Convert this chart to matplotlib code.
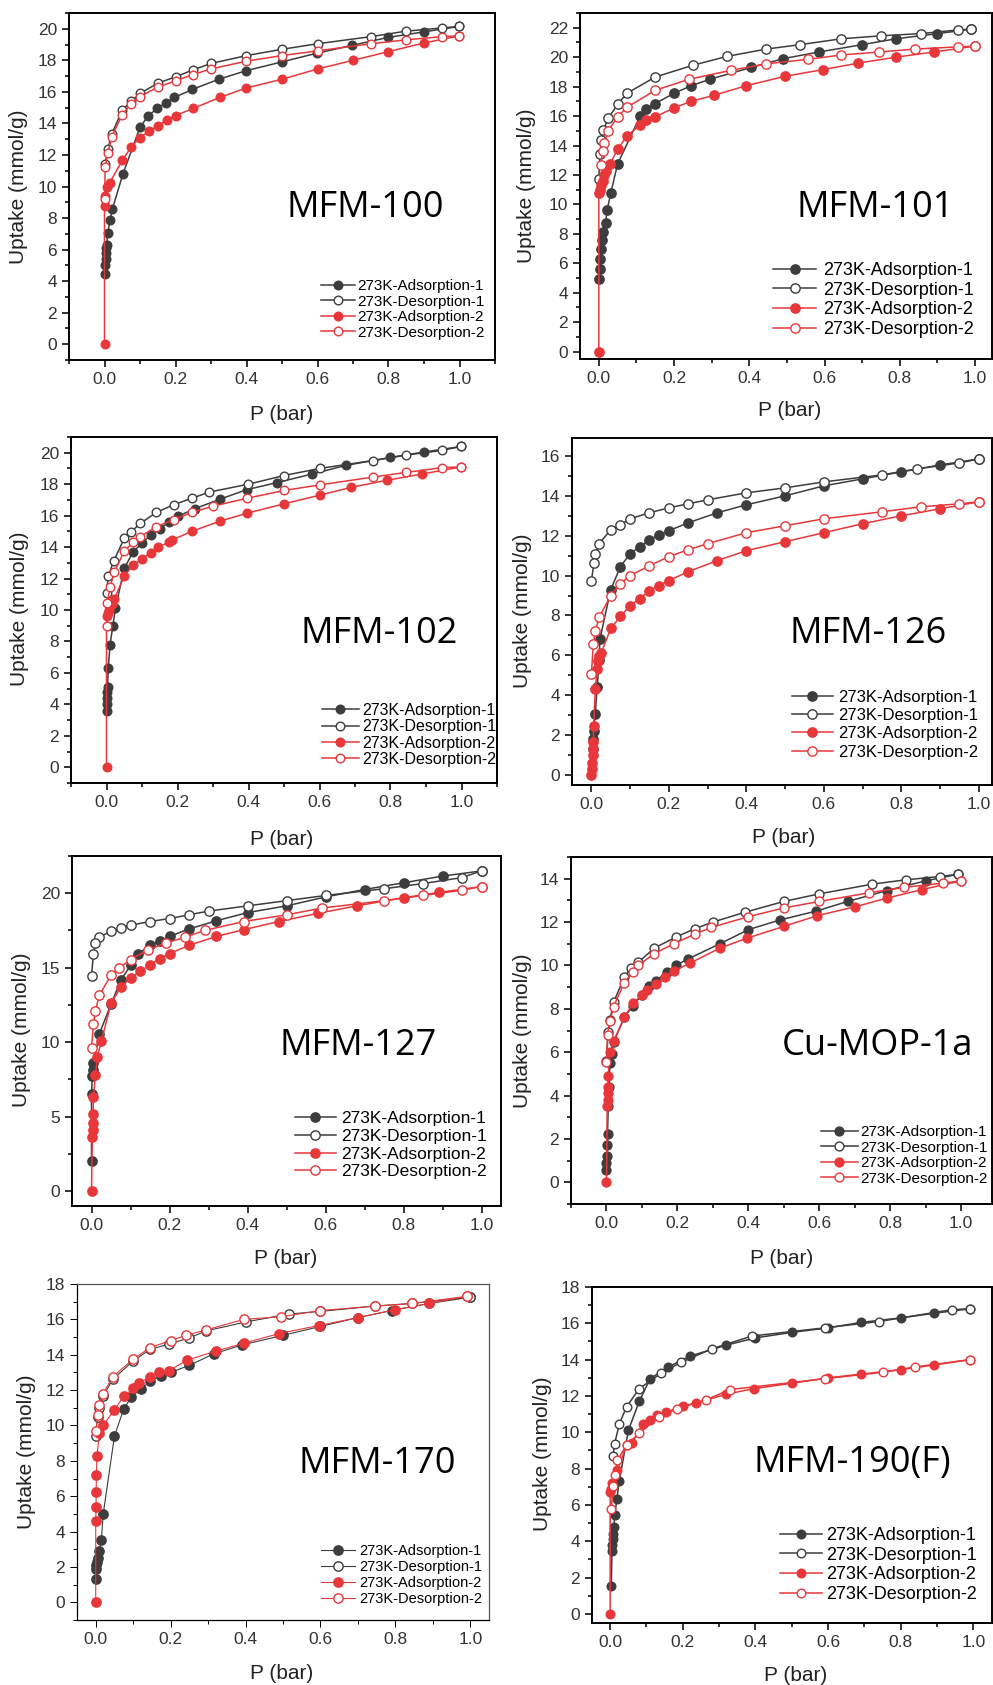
import matplotlib
matplotlib.use('Agg')
import matplotlib.pyplot as plt
from matplotlib.ticker import MultipleLocator

plt.rcParams['font.family'] = ['Liberation Sans', 'DejaVu Sans']

# ---- MFM-100 ----
mfm100_ads1_p = [0.0, 0.002, 0.003, 0.004, 0.005, 0.006, 0.009, 0.016, 0.022, 0.052, 0.1, 0.122, 0.148, 0.174, 0.197, 0.247, 0.322, 0.4, 0.5, 0.598, 0.698, 0.798, 0.899, 1.0]
mfm100_ads1_q = [4.45, 5.0, 5.4, 5.8, 6.1, 6.3, 7.05, 7.85, 8.55, 10.8, 13.75, 14.45, 14.95, 15.3, 15.65, 16.15, 16.8, 17.35, 17.9, 18.45, 18.95, 19.45, 19.8, 20.15]
mfm100_des1_p = [1.0, 0.95, 0.85, 0.75, 0.6, 0.5, 0.4, 0.3, 0.25, 0.2, 0.15, 0.1, 0.075, 0.05, 0.02, 0.01, 0.002]
mfm100_des1_q = [20.15, 20.05, 19.85, 19.5, 19.05, 18.7, 18.3, 17.8, 17.4, 16.95, 16.55, 15.9, 15.4, 14.85, 13.3, 12.4, 11.45]
mfm100_ads2_p = [0.0, 0.0, 0.0, 0.008, 0.015, 0.05, 0.075, 0.1, 0.125, 0.15, 0.175, 0.2, 0.25, 0.325, 0.4, 0.5, 0.6, 0.7, 0.8, 0.9, 1.0]
mfm100_ads2_q = [0.0, 8.75, 9.4, 9.95, 10.25, 11.65, 12.5, 13.1, 13.5, 13.85, 14.2, 14.5, 14.95, 15.65, 16.25, 16.8, 17.45, 18.0, 18.55, 19.1, 19.55]
mfm100_des2_p = [1.0, 0.95, 0.85, 0.75, 0.6, 0.5, 0.4, 0.3, 0.25, 0.2, 0.15, 0.1, 0.075, 0.05, 0.02, 0.01, 0.002, 0.0]
mfm100_des2_q = [19.55, 19.5, 19.3, 19.05, 18.6, 18.3, 17.95, 17.45, 17.1, 16.7, 16.3, 15.7, 15.25, 14.55, 13.15, 12.15, 11.25, 9.2]

# ---- MFM-101 ----
mfm101_ads1_p = [0.0, 0.002, 0.004, 0.006, 0.008, 0.01, 0.018, 0.022, 0.032, 0.05, 0.11, 0.125, 0.15, 0.2, 0.245, 0.295, 0.405, 0.49, 0.585, 0.7, 0.79, 0.9, 0.99]
mfm101_ads1_q = [4.9, 5.6, 6.3, 7.0, 7.6, 8.1, 8.75, 9.6, 10.8, 12.75, 16.0, 16.45, 16.85, 17.55, 18.05, 18.5, 19.3, 19.9, 20.35, 20.85, 21.25, 21.6, 21.9]
mfm101_des1_p = [0.99, 0.955, 0.855, 0.75, 0.645, 0.535, 0.445, 0.34, 0.25, 0.15, 0.075, 0.05, 0.025, 0.012, 0.007, 0.003, 0.0]
mfm101_des1_q = [21.9, 21.85, 21.6, 21.45, 21.25, 20.85, 20.55, 20.05, 19.45, 18.65, 17.55, 16.8, 15.85, 15.05, 14.4, 13.45, 11.7]
mfm101_ads2_p = [0.0, 0.0, 0.002, 0.006, 0.01, 0.015, 0.02, 0.03, 0.05, 0.075, 0.11, 0.125, 0.15, 0.2, 0.245, 0.305, 0.39, 0.495, 0.595, 0.69, 0.79, 0.89, 1.0]
mfm101_ads2_q = [0.0, 10.75, 11.0, 11.3, 11.6, 12.0, 12.3, 12.75, 13.75, 14.65, 15.4, 15.7, 15.95, 16.55, 17.0, 17.4, 18.05, 18.7, 19.15, 19.6, 20.0, 20.35, 20.75]
mfm101_des2_p = [1.0, 0.955, 0.84, 0.745, 0.645, 0.555, 0.445, 0.35, 0.24, 0.15, 0.075, 0.05, 0.025, 0.015, 0.01, 0.005]
mfm101_des2_q = [20.75, 20.7, 20.55, 20.35, 20.15, 19.85, 19.55, 19.1, 18.5, 17.75, 16.6, 15.95, 15.0, 14.2, 13.6, 12.65]

# ---- MFM-102 ----
mfm102_ads1_p = [0.0, 0.0, 0.001, 0.002, 0.003, 0.005, 0.01, 0.018, 0.025, 0.05, 0.075, 0.1, 0.125, 0.15, 0.175, 0.2, 0.25, 0.32, 0.395, 0.48, 0.58, 0.675, 0.8, 0.895, 1.0]
mfm102_ads1_q = [3.6, 4.0, 4.4, 4.8, 5.1, 6.3, 7.8, 9.0, 10.1, 12.65, 13.7, 14.25, 14.8, 15.15, 15.6, 15.95, 16.45, 17.05, 17.65, 18.1, 18.65, 19.2, 19.7, 20.05, 20.4]
mfm102_des1_p = [1.0, 0.945, 0.845, 0.75, 0.6, 0.5, 0.4, 0.29, 0.24, 0.19, 0.14, 0.095, 0.068, 0.05, 0.02, 0.005, 0.0]
mfm102_des1_q = [20.4, 20.15, 19.85, 19.5, 19.0, 18.55, 18.0, 17.5, 17.1, 16.7, 16.2, 15.5, 14.95, 14.55, 13.1, 12.15, 11.1]
mfm102_ads2_p = [0.0, 0.0, 0.003, 0.008, 0.015, 0.022, 0.05, 0.075, 0.1, 0.125, 0.145, 0.175, 0.185, 0.24, 0.32, 0.395, 0.5, 0.6, 0.69, 0.79, 0.89, 1.0]
mfm102_ads2_q = [0.0, 9.6, 9.8, 10.0, 10.4, 10.7, 12.15, 12.85, 13.25, 13.65, 14.0, 14.3, 14.45, 15.0, 15.65, 16.15, 16.75, 17.3, 17.8, 18.25, 18.65, 19.1]
mfm102_des2_p = [1.0, 0.945, 0.845, 0.75, 0.6, 0.5, 0.395, 0.3, 0.24, 0.19, 0.14, 0.095, 0.075, 0.05, 0.022, 0.01, 0.002, 0.0]
mfm102_des2_q = [19.1, 19.05, 18.75, 18.45, 17.95, 17.6, 17.1, 16.6, 16.2, 15.75, 15.3, 14.65, 14.3, 13.75, 12.4, 11.45, 10.45, 9.0]

# ---- MFM-126 ----
mfm126_ads1_p = [0.003, 0.005, 0.006, 0.01, 0.015, 0.02, 0.022, 0.05, 0.075, 0.1, 0.125, 0.15, 0.175, 0.2, 0.25, 0.325, 0.4, 0.5, 0.6, 0.7, 0.8, 0.9, 1.0]
mfm126_ads1_q = [1.3, 1.8, 2.2, 3.05, 4.4, 5.75, 6.8, 9.3, 10.45, 11.1, 11.45, 11.8, 12.05, 12.25, 12.65, 13.15, 13.55, 14.0, 14.5, 14.85, 15.2, 15.55, 15.85]
mfm126_des1_p = [1.0, 0.95, 0.84, 0.75, 0.6, 0.5, 0.4, 0.3, 0.25, 0.2, 0.15, 0.1, 0.075, 0.05, 0.02, 0.01, 0.007, 0.0]
mfm126_des1_q = [15.85, 15.65, 15.35, 15.05, 14.7, 14.4, 14.15, 13.8, 13.6, 13.4, 13.15, 12.85, 12.55, 12.3, 11.6, 11.1, 10.65, 9.75]
mfm126_ads2_p = [0.0, 0.001, 0.002, 0.003, 0.004, 0.005, 0.006, 0.01, 0.015, 0.017, 0.02, 0.025, 0.05, 0.075, 0.1, 0.125, 0.15, 0.175, 0.2, 0.25, 0.325, 0.4, 0.5, 0.6, 0.7, 0.8, 0.9, 1.0]
mfm126_ads2_q = [0.0, 0.3, 0.6, 1.0, 1.3, 1.65, 2.45, 4.3, 5.3, 5.7, 5.95, 6.1, 7.35, 7.95, 8.5, 8.85, 9.25, 9.5, 9.75, 10.2, 10.75, 11.25, 11.7, 12.15, 12.6, 13.0, 13.35, 13.7]
mfm126_des2_p = [1.0, 0.95, 0.85, 0.75, 0.6, 0.5, 0.4, 0.3, 0.25, 0.2, 0.15, 0.1, 0.075, 0.05, 0.02, 0.01, 0.005, 0.0]
mfm126_des2_q = [13.7, 13.6, 13.45, 13.2, 12.85, 12.5, 12.15, 11.6, 11.3, 10.95, 10.5, 10.0, 9.6, 9.0, 7.9, 7.2, 6.55, 5.05]

# ---- MFM-127 ----
mfm127_ads1_p = [0.0, 0.0, 0.002, 0.003, 0.005, 0.02, 0.05, 0.075, 0.1, 0.12, 0.15, 0.175, 0.2, 0.25, 0.32, 0.4, 0.5, 0.6, 0.7, 0.8, 0.9, 1.0]
mfm127_ads1_q = [2.05, 6.5, 7.75, 8.15, 8.6, 10.55, 12.55, 14.15, 15.15, 15.95, 16.5, 16.8, 17.1, 17.6, 18.15, 18.7, 19.15, 19.75, 20.25, 20.7, 21.15, 21.5]
mfm127_des1_p = [1.0, 0.95, 0.85, 0.75, 0.6, 0.5, 0.4, 0.3, 0.25, 0.2, 0.15, 0.1, 0.075, 0.05, 0.02, 0.01, 0.005, 0.0]
mfm127_des1_q = [21.5, 21.05, 20.65, 20.3, 19.85, 19.5, 19.15, 18.8, 18.55, 18.3, 18.1, 17.85, 17.65, 17.45, 17.05, 16.65, 15.95, 14.45]
mfm127_ads2_p = [0.0, 0.002, 0.003, 0.003, 0.004, 0.005, 0.01, 0.015, 0.025, 0.05, 0.075, 0.1, 0.125, 0.15, 0.175, 0.2, 0.25, 0.32, 0.39, 0.48, 0.58, 0.68, 0.8, 0.89, 1.0]
mfm127_ads2_q = [0.0, 3.6, 4.1, 4.6, 5.15, 6.3, 7.8, 9.0, 10.05, 12.6, 13.7, 14.3, 14.75, 15.2, 15.6, 15.95, 16.5, 17.1, 17.55, 18.1, 18.65, 19.15, 19.7, 20.05, 20.45]
mfm127_des2_p = [1.0, 0.95, 0.85, 0.75, 0.59, 0.5, 0.39, 0.29, 0.24, 0.19, 0.145, 0.1, 0.07, 0.05, 0.02, 0.01, 0.005, 0.0]
mfm127_des2_q = [20.45, 20.2, 19.85, 19.5, 19.0, 18.55, 18.1, 17.5, 17.05, 16.65, 16.2, 15.55, 14.95, 14.5, 13.15, 12.1, 11.2, 9.6]

# ---- Cu-MOP-1a ----
cumop_ads1_p = [0.0, 0.0, 0.001, 0.002, 0.003, 0.005, 0.007, 0.01, 0.015, 0.02, 0.05, 0.075, 0.1, 0.12, 0.14, 0.17, 0.195, 0.23, 0.32, 0.4, 0.49, 0.59, 0.68, 0.79, 0.9, 0.99]
cumop_ads1_q = [0.55, 0.9, 1.2, 1.7, 2.25, 3.5, 4.4, 5.5, 5.9, 6.45, 7.6, 8.15, 8.65, 9.05, 9.3, 9.7, 10.0, 10.3, 11.0, 11.65, 12.1, 12.5, 12.95, 13.45, 13.9, 14.2]
cumop_des1_p = [0.99, 0.94, 0.845, 0.75, 0.6, 0.5, 0.39, 0.3, 0.25, 0.195, 0.135, 0.09, 0.07, 0.05, 0.02, 0.01, 0.005, 0.0]
cumop_des1_q = [14.2, 14.1, 13.95, 13.75, 13.3, 12.95, 12.45, 12.0, 11.7, 11.3, 10.8, 10.15, 9.9, 9.45, 8.3, 7.5, 6.95, 5.6]
cumop_ads2_p = [0.0, 0.002, 0.003, 0.003, 0.004, 0.005, 0.01, 0.02, 0.05, 0.075, 0.1, 0.115, 0.14, 0.165, 0.19, 0.235, 0.32, 0.395, 0.5, 0.595, 0.7, 0.79, 0.89, 1.0]
cumop_ads2_q = [0.0, 3.5, 3.8, 4.1, 4.4, 4.9, 6.0, 6.5, 7.6, 8.25, 8.65, 8.85, 9.15, 9.45, 9.75, 10.1, 10.8, 11.25, 11.8, 12.3, 12.7, 13.1, 13.5, 13.9]
cumop_des2_p = [1.0, 0.95, 0.84, 0.74, 0.6, 0.5, 0.4, 0.295, 0.25, 0.19, 0.135, 0.09, 0.075, 0.05, 0.02, 0.01, 0.003, 0.0]
cumop_des2_q = [13.9, 13.8, 13.6, 13.35, 12.95, 12.65, 12.25, 11.75, 11.45, 11.0, 10.55, 10.0, 9.7, 9.2, 8.1, 7.45, 6.8, 5.55]

# ---- MFM-170 ----
mfm170_ads1_p = [0.0, 0.001, 0.002, 0.003, 0.005, 0.01, 0.015, 0.02, 0.05, 0.075, 0.095, 0.12, 0.145, 0.175, 0.2, 0.25, 0.315, 0.39, 0.5, 0.6, 0.7, 0.79, 0.89, 1.0]
mfm170_ads1_q = [1.3, 1.9, 2.1, 2.3, 2.5, 2.9, 3.55, 5.0, 9.4, 10.95, 11.6, 12.05, 12.5, 12.8, 13.0, 13.4, 14.05, 14.55, 15.1, 15.6, 16.1, 16.5, 16.9, 17.25]
mfm170_des1_p = [1.0, 0.845, 0.745, 0.6, 0.515, 0.4, 0.295, 0.25, 0.195, 0.145, 0.1, 0.045, 0.02, 0.01, 0.005, 0.0]
mfm170_des1_q = [17.25, 16.9, 16.75, 16.45, 16.3, 15.85, 15.35, 14.95, 14.6, 14.3, 13.65, 12.6, 11.65, 11.0, 10.5, 9.4]
mfm170_ads2_p = [0.0, 0.0, 0.001, 0.001, 0.002, 0.003, 0.01, 0.02, 0.05, 0.075, 0.1, 0.115, 0.145, 0.17, 0.195, 0.245, 0.32, 0.395, 0.49, 0.595, 0.7, 0.8, 0.89, 0.99]
mfm170_ads2_q = [0.0, 4.6, 5.4, 6.25, 7.2, 8.25, 9.55, 10.0, 10.9, 11.65, 12.1, 12.4, 12.75, 13.0, 13.1, 13.7, 14.2, 14.65, 15.2, 15.65, 16.1, 16.55, 16.9, 17.3]
mfm170_des2_p = [0.99, 0.845, 0.745, 0.6, 0.495, 0.395, 0.295, 0.24, 0.2, 0.145, 0.1, 0.045, 0.02, 0.01, 0.005, 0.0]
mfm170_des2_q = [17.3, 16.9, 16.75, 16.5, 16.15, 16.0, 15.4, 15.1, 14.8, 14.4, 13.75, 12.75, 11.8, 11.15, 10.6, 9.7]

# ---- MFM-190(F) ----
mfm190_ads1_p = [0.003, 0.005, 0.006, 0.007, 0.008, 0.01, 0.013, 0.018, 0.025, 0.05, 0.08, 0.11, 0.16, 0.22, 0.32, 0.4, 0.5, 0.6, 0.69, 0.8, 0.89, 0.99]
mfm190_ads1_q = [1.55, 3.45, 3.8, 4.1, 4.4, 4.8, 5.45, 6.3, 7.3, 10.1, 11.7, 12.95, 13.6, 14.2, 14.8, 15.2, 15.5, 15.75, 16.05, 16.3, 16.55, 16.8]
mfm190_des1_p = [0.99, 0.94, 0.74, 0.59, 0.39, 0.28, 0.195, 0.14, 0.08, 0.045, 0.025, 0.012, 0.008]
mfm190_des1_q = [16.8, 16.75, 16.1, 15.75, 15.3, 14.6, 13.85, 13.25, 12.4, 11.4, 10.45, 9.35, 8.7]
mfm190_ads2_p = [0.0, 0.0, 0.003, 0.005, 0.02, 0.045, 0.06, 0.09, 0.11, 0.13, 0.155, 0.2, 0.235, 0.32, 0.395, 0.5, 0.6, 0.69, 0.8, 0.89, 0.99]
mfm190_ads2_q = [0.0, 6.7, 6.9, 7.2, 7.9, 9.3, 9.4, 10.45, 10.7, 10.95, 11.1, 11.45, 11.6, 12.1, 12.4, 12.7, 13.0, 13.2, 13.45, 13.7, 14.0]
mfm190_des2_p = [0.99, 0.84, 0.75, 0.59, 0.33, 0.265, 0.185, 0.135, 0.08, 0.045, 0.02, 0.012, 0.008, 0.003]
mfm190_des2_q = [14.0, 13.6, 13.3, 12.95, 12.35, 11.8, 11.3, 10.85, 9.95, 9.3, 8.45, 7.65, 7.05, 5.75]

series_labels = ['273K-Adsorption-1', '273K-Desorption-1', '273K-Adsorption-2', '273K-Desorption-2']

W, H = 993, 1685
GRAY = '#3d3d3d'
RED = '#e8373b'

fig = plt.figure(figsize=(W / 100, H / 100), dpi=100)


def fx(x):
    return x / W


def fy(y):
    return 1 - y / H


def draw_panel(box, xlim, ylim, ystep, curves, name, name_xy, xlab_xy, ylab_xy,
               leg_xy, leg_fs, leg_rows=0.2, hlen=2.4, hpad=0.3, ms=6.0, thin=False):
    left, top, right, bottom = box
    ax = fig.add_axes([fx(left), fy(bottom), (right - left) / W, (bottom - top) / H])
    colors = [GRAY, GRAY, RED, RED]
    faces = [GRAY, 'white', RED, 'white']
    lw = 0.8 if thin else 1.1
    for (p, q), c, fc, lab in zip(curves, colors, faces, series_labels):
        ax.plot(p, q, '-o', color=c, mfc=fc, mec=c, mew=1.0, ms=ms, lw=lw, label=lab)
    ax.set_xlim(*xlim)
    ax.set_ylim(*ylim)
    ax.xaxis.set_major_locator(MultipleLocator(0.2))
    ax.xaxis.set_minor_locator(MultipleLocator(0.1))
    ax.yaxis.set_major_locator(MultipleLocator(ystep))
    ax.yaxis.set_minor_locator(MultipleLocator(ystep / 2))
    ax.xaxis.set_major_formatter(plt.FuncFormatter(lambda v, pos: f'{v:.1f}'))
    ax.yaxis.set_major_formatter(plt.FuncFormatter(lambda v, pos: f'{v:g}'))
    spw = 0.9 if thin else 1.4
    for s in ax.spines.values():
        s.set_linewidth(spw)
        s.set_color('black')
    if thin:
        ax.spines['top'].set_color('#555555')
        ax.spines['right'].set_color('#555555')
    ax.tick_params(which='both', direction='out', top=False, right=False,
                   width=spw * 0.8, colors='black', labelcolor='#333333', labelsize=12.5)
    ax.tick_params(which='major', length=5)
    ax.tick_params(which='minor', length=3)

    fig.text(fx(xlab_xy[0]), fy(xlab_xy[1]), 'P (bar)', ha='center', va='center',
             fontsize=15, color='#222222')
    fig.text(fx(ylab_xy[0]), fy(ylab_xy[1]), 'Uptake (mmol/g)', ha='center', va='center',
             rotation=90, fontsize=15, color='#222222')
    fig.text(fx(name_xy[0]), fy(name_xy[1]), name, ha='center', va='baseline',
             fontsize=26, family='Open Sans', color='black')
    ax.legend(loc='upper left', bbox_to_anchor=(fx(leg_xy[0]), fy(leg_xy[1])),
              bbox_transform=fig.transFigure, frameon=False, borderpad=0,
              borderaxespad=0, fontsize=leg_fs, handlelength=hlen,
              handletextpad=hpad, labelspacing=leg_rows, numpoints=1)
    return ax


draw_panel((69, 13, 495, 360), (-0.1, 1.1), (-1, 21), 2,
           [(mfm100_ads1_p, mfm100_ads1_q), (mfm100_des1_p, mfm100_des1_q),
            (mfm100_ads2_p, mfm100_ads2_q), (mfm100_des2_p, mfm100_des2_q)],
           'MFM-100', (365, 217), (282, 415), (19, 187), (321, 279), 11,
           leg_rows=0.1, hlen=2.2, hpad=0.2, ms=6.2)

draw_panel((580, 13, 992, 359), (-0.05, 1.045), (-0.5, 23), 2,
           [(mfm101_ads1_p, mfm101_ads1_q), (mfm101_des1_p, mfm101_des1_q),
            (mfm101_ads2_p, mfm101_ads2_q), (mfm101_des2_p, mfm101_des2_q)],
           'MFM-101', (875, 217), (790, 411), (527, 186), (773, 262), 13,
           leg_rows=0.15, hlen=2.4, hpad=0.35, ms=6.7)

draw_panel((71, 437, 497, 783), (-0.1, 1.1), (-1, 21), 2,
           [(mfm102_ads1_p, mfm102_ads1_q), (mfm102_des1_p, mfm102_des1_q),
            (mfm102_ads2_p, mfm102_ads2_q), (mfm102_des2_p, mfm102_des2_q)],
           'MFM-102', (379, 643), (282, 839), (20, 609), (322, 703), 11.5,
           leg_rows=0.08, hlen=2.3, hpad=0.2, ms=6.2)

draw_panel((572, 438, 992, 785), (-0.05, 1.034), (-0.5, 16.9), 2,
           [(mfm126_ads1_p, mfm126_ads1_q), (mfm126_des1_p, mfm126_des1_q),
            (mfm126_ads2_p, mfm126_ads2_q), (mfm126_des2_p, mfm126_des2_q)],
           'MFM-126', (868, 643), (784, 837), (522, 611), (792, 690), 12,
           leg_rows=0.19, hlen=2.45, hpad=0.3, ms=6.7)

draw_panel((72, 856, 501, 1206), (-0.05, 1.05), (-1, 22.5), 5,
           [(mfm127_ads1_p, mfm127_ads1_q), (mfm127_des1_p, mfm127_des1_q),
            (mfm127_ads2_p, mfm127_ads2_q), (mfm127_des2_p, mfm127_des2_q)],
           'MFM-127', (358, 1055), (286, 1258), (22, 1030), (295, 1111), 12.5,
           leg_rows=0.15, hlen=2.35, hpad=0.3, ms=6.7)

draw_panel((571, 857, 992, 1204), (-0.1, 1.087), (-1, 15), 2,
           [(cumop_ads1_p, cumop_ads1_q), (cumop_des1_p, cumop_des1_q),
            (cumop_ads2_p, cumop_ads2_q), (cumop_des2_p, cumop_des2_q)],
           'Cu-MOP-1a', (877, 1055), (782, 1258), (522, 1031), (821, 1125), 11,
           leg_rows=0.1, hlen=2.4, hpad=0.15, ms=6.4)

draw_panel((77, 1284, 489, 1620), (-0.05, 1.05), (-1, 18), 2,
           [(mfm170_ads1_p, mfm170_ads1_q), (mfm170_des1_p, mfm170_des1_q),
            (mfm170_ads2_p, mfm170_ads2_q), (mfm170_des2_p, mfm170_des2_q)],
           'MFM-170', (377, 1473), (282, 1673), (27, 1452), (321, 1544), 10.5,
           leg_rows=0.13, hlen=2.3, hpad=0.3, ms=6.7, thin=True)

draw_panel((592, 1287, 992, 1623), (-0.05, 1.051), (-0.5, 18), 2,
           [(mfm190_ads1_p, mfm190_ads1_q), (mfm190_des1_p, mfm190_des1_q),
            (mfm190_ads2_p, mfm190_ads2_q), (mfm190_des2_p, mfm190_des2_q)],
           'MFM-190(F)', (852, 1472), (796, 1675), (542, 1454), (780, 1527), 13,
           leg_rows=0.15, hlen=2.35, hpad=0.23, ms=6.2)

fig.savefig('out.png', dpi=100)
